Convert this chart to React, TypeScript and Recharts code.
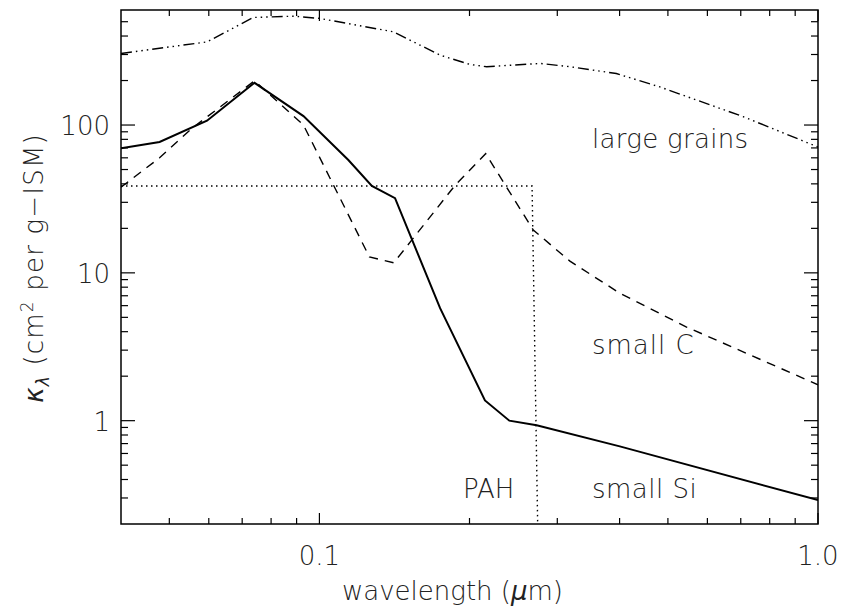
import React from 'react';
import { LineChart, Line, XAxis, YAxis, ReferenceArea } from 'recharts';

// ---- axes ----
const xDomain: [number, number] = [0.04, 1.0];
const yDomain: [number, number] = [0.2, 600];
const xMajorTicks = [0.1, 1.0];
const xTickLabels = ['0.1', '1.0'];
const xMinorTicks = [0.05, 0.06, 0.07, 0.08, 0.09, 0.2, 0.3, 0.4, 0.5, 0.6, 0.7, 0.8, 0.9];
const yMajorTicks = [1, 10, 100];
const yTickLabels = ['1', '10', '100'];
const yMinorTicks = [0.3, 0.4, 0.5, 0.6, 0.7, 0.8, 0.9, 2, 3, 4, 5, 6, 7, 8, 9, 20, 30, 40, 50, 60, 70, 80, 90, 200, 300, 400, 500];

// ---- series ----
const largeWave = [0.04, 0.0595, 0.0737, 0.0887, 0.1003, 0.1407, 0.1746, 0.2003, 0.2165, 0.277, 0.318, 0.394, 0.4818, 0.7075, 1.0];
const largeKappa = [305, 365, 534, 545, 526, 427, 297, 257, 248, 261, 248, 223, 181, 114, 71];

const smallCWave = [0.04, 0.0478, 0.0555, 0.0741, 0.0929, 0.126, 0.141, 0.187, 0.2155, 0.2685, 0.318, 0.4, 0.545, 1.0];
const smallCKappa = [38, 60, 95, 199, 100, 12.8, 11.7, 39, 64, 19.5, 12, 7.3, 4.3, 1.75];

const smallSiWave = [0.04, 0.0478, 0.0595, 0.0741, 0.0929, 0.1143, 0.1274, 0.1418, 0.1746, 0.2148, 0.2404, 0.2727, 0.4004, 1.0];
const smallSiKappa = [69.6, 76.8, 107, 193, 115, 58, 38.7, 32, 5.77, 1.37, 1.0, 0.93, 0.67, 0.29];

const pahWave = [0.04, 0.267, 0.274];
const pahKappa = [38.7, 38.7, 0.2];

const seriesLabels = ['large grains', 'small C', 'PAH', 'small Si'];

const zip = (w: number[], k: number[]) => w.map((x, i) => ({ w: x, k: k[i] }));
const largeData = zip(largeWave, largeKappa);
const smallCData = zip(smallCWave, smallCKappa);
const smallSiData = zip(smallSiWave, smallSiKappa);
const pahData = zip(pahWave, pahKappa);

// ---- layout ----
const W = 841;
const H = 611;
const PLOT = { left: 121, top: 10, right: 818, bottom: 524 };
const FONT = "'DejaVu Sans', sans-serif";
const TXT = '#222';

const xTicksAll = [...xMinorTicks, ...xMajorTicks].sort((a, b) => a - b);
const yTicksAll = [...yMinorTicks, ...yMajorTicks].sort((a, b) => a - b);

const renderXTick = (props: any) => {
  const { x, payload } = props;
  const i = xMajorTicks.indexOf(payload.value);
  const len = i >= 0 ? 11 : 6;
  return (
    <g key={`xt-${payload.value}`}>
      <line x1={x} x2={x} y1={PLOT.bottom} y2={PLOT.bottom - len} stroke="#000" strokeWidth={1.2} />
      <line x1={x} x2={x} y1={PLOT.top} y2={PLOT.top + len} stroke="#000" strokeWidth={1.2} />
      {i >= 0 && (
        <text x={x} y={565} textAnchor="middle" fontFamily={FONT} fontWeight={200} fontSize={26} fill={TXT}>
          {xTickLabels[i]}
        </text>
      )}
    </g>
  );
};

const renderYTick = (props: any) => {
  const { y, payload } = props;
  const i = yMajorTicks.indexOf(payload.value);
  const len = i >= 0 ? 14 : 7;
  return (
    <g key={`yt-${payload.value}`}>
      <line x1={PLOT.left} x2={PLOT.left + len} y1={y} y2={y} stroke="#000" strokeWidth={1.2} />
      <line x1={PLOT.right} x2={PLOT.right - len} y1={y} y2={y} stroke="#000" strokeWidth={1.2} />
      {i >= 0 && (
        <text x={110} y={y + 10} textAnchor="end" fontFamily={FONT} fontWeight={200} fontSize={26} fill={TXT}>
          {yTickLabels[i]}
        </text>
      )}
    </g>
  );
};

export default function App() {
  const textProps = { fontFamily: FONT, fontWeight: 200, fontSize: 26, fill: TXT } as any;
  return (
    <div style={{ position: 'absolute', left: 0, top: 0, width: W, height: H, background: '#fff' }}>
      <LineChart
        width={W}
        height={H}
        margin={{ top: PLOT.top, right: W - PLOT.right, bottom: H - PLOT.bottom - 1, left: PLOT.left - 1 }}
      >
        <XAxis
          xAxisId="x"
          dataKey="w"
          type="number"
          scale="log"
          domain={xDomain}
          allowDataOverflow
          ticks={xTicksAll}
          tick={renderXTick}
          tickLine={false}
          axisLine={false}
          height={1}
          interval={0}
        />
        <YAxis
          yAxisId="y"
          dataKey="k"
          type="number"
          scale="log"
          domain={yDomain}
          allowDataOverflow
          ticks={yTicksAll}
          tick={renderYTick}
          tickLine={false}
          axisLine={false}
          width={1}
          interval={0}
        />
        <ReferenceArea xAxisId="x" yAxisId="y" x1={xDomain[0]} x2={xDomain[1]} y1={yDomain[0]} y2={yDomain[1]} fill="none" stroke="#000" strokeWidth={1.5} fillOpacity={0} />
        <Line xAxisId="x" yAxisId="y" data={largeData} dataKey="k" type="linear" stroke="#000" strokeWidth={1.4} strokeDasharray="11 4 1.5 4 1.5 4 1.5 4" dot={false} isAnimationActive={false} />
        <Line xAxisId="x" yAxisId="y" data={smallCData} dataKey="k" type="linear" stroke="#000" strokeWidth={1.4} strokeDasharray="9 7" dot={false} isAnimationActive={false} />
        <Line xAxisId="x" yAxisId="y" data={pahData} dataKey="k" type="linear" stroke="#000" strokeWidth={1.4} strokeDasharray="1.5 3.5" dot={false} isAnimationActive={false} />
        <Line xAxisId="x" yAxisId="y" data={smallSiData} dataKey="k" type="linear" stroke="#000" strokeWidth={2} dot={false} isAnimationActive={false} />
      </LineChart>
      <svg width={W} height={H} style={{ position: 'absolute', left: 0, top: 0, pointerEvents: 'none' }}>
        <text x={592} y={148} {...textProps} letterSpacing={0.3}>{seriesLabels[0]}</text>
        <text x={592} y={354} {...textProps} letterSpacing={1}>{seriesLabels[1]}</text>
        <text x={463} y={498} {...textProps}>{seriesLabels[2]}</text>
        <text x={592} y={498} {...textProps} letterSpacing={0.5}>{seriesLabels[3]}</text>
        <text x={342} y={600} {...textProps}>
          wavelength (<tspan fontStyle="italic">μ</tspan>m)
        </text>
        <text transform="translate(43,268) rotate(-90)" textAnchor="middle" {...textProps} letterSpacing={1.2}>
          <tspan fontStyle="italic">κ</tspan>
          <tspan fontStyle="italic" fontSize={17} dy={6}>λ</tspan>
          <tspan dy={-6}> (cm</tspan>
          <tspan fontSize={17} dy={-10}>2</tspan>
          <tspan dy={10}> per g−ISM)</tspan>
        </text>
      </svg>
    </div>
  );
}
